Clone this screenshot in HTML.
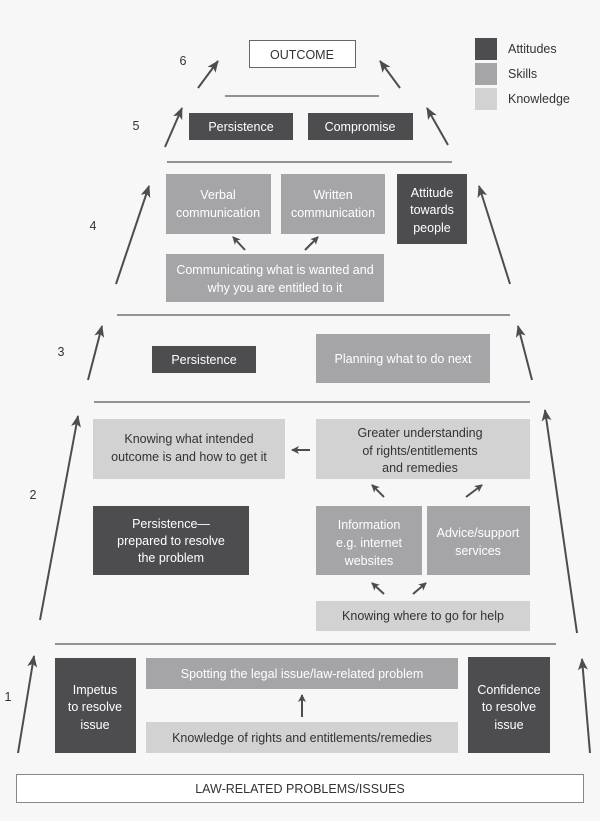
<!DOCTYPE html>
<html><head><meta charset="utf-8"><style>
html,body{margin:0;padding:0;background:#f7f7f7}
svg{display:block}
text{font-family:"Liberation Sans",sans-serif;font-size:12.5px;text-anchor:middle}
.w{fill:#fff}.k{fill:#333}
</style></head><body>
<svg width="600" height="821" viewBox="0 0 600 821" xmlns="http://www.w3.org/2000/svg">
<defs><marker id="a" markerWidth="8" markerHeight="8" refX="7" refY="4" orient="auto" markerUnits="userSpaceOnUse"><path d="M0,0 L8,4 L0,8 L2,4z" fill="#4d4d4f"/></marker>
<marker id="b" markerWidth="12" markerHeight="10" refX="11" refY="5" orient="auto" markerUnits="userSpaceOnUse"><path d="M0,0 L12,5 L0,10 L3,5z" fill="#4d4d4f"/></marker></defs>
<rect width="600" height="821" fill="#f7f7f7"/>
<!-- legend -->
<rect x="475" y="38" width="22" height="22" fill="#4d4d4f"/>
<rect x="475" y="63" width="22" height="22" fill="#a5a5a7"/>
<rect x="475" y="88" width="22" height="22" fill="#d2d2d3"/>
<g class="k" style="text-anchor:start"><text x="508" y="53" style="text-anchor:start">Attitudes</text><text x="508" y="78" style="text-anchor:start">Skills</text><text x="508" y="103" style="text-anchor:start">Knowledge</text></g>
<!-- lines -->
<g stroke="#555" stroke-width="1.2"><line x1="225" y1="96" x2="379" y2="96"/><line x1="167" y1="162" x2="452" y2="162"/><line x1="117" y1="315" x2="510" y2="315"/><line x1="94" y1="402" x2="530" y2="402"/><line x1="55" y1="644" x2="556" y2="644"/></g>
<!-- big arrows -->
<g stroke="#4d4d4f" stroke-width="2" marker-end="url(#b)">
<line x1="198" y1="88" x2="218" y2="61"/><line x1="400" y1="88" x2="380" y2="61"/>
<line x1="165" y1="147" x2="182" y2="108"/><line x1="448" y1="145" x2="427" y2="108"/>
<line x1="116" y1="284" x2="149" y2="186"/><line x1="510" y1="284" x2="479" y2="186"/>
<line x1="88" y1="380" x2="102" y2="326"/><line x1="532" y1="380" x2="518" y2="326"/>
<line x1="40" y1="620" x2="78" y2="416"/><line x1="577" y1="633" x2="545" y2="410"/>
<line x1="18" y1="753" x2="34" y2="656"/><line x1="590" y1="753" x2="582" y2="659"/>
</g>
<g stroke="#4d4d4f" stroke-width="2" marker-end="url(#a)">
<line x1="245" y1="250" x2="233" y2="237"/><line x1="305" y1="250" x2="318" y2="237"/>
<line x1="310" y1="450" x2="292" y2="450"/>
<line x1="384" y1="497" x2="372" y2="485"/><line x1="466" y1="497" x2="482" y2="485"/>
<line x1="384" y1="594" x2="372" y2="583"/><line x1="413" y1="594" x2="426" y2="583"/>
<line x1="302" y1="717" x2="302" y2="695"/>
</g>
<!-- numbers -->
<g class="k"><text x="183" y="65">6</text><text x="136" y="130">5</text><text x="93" y="230">4</text><text x="61" y="356">3</text><text x="33" y="499">2</text><text x="8" y="701">1</text></g>
<!-- boxes -->
<rect x="249.5" y="40.5" width="106" height="27" fill="#fff" stroke="#666"/>
<text x="302" y="59" class="k">OUTCOME</text>
<rect x="189" y="113" width="104" height="27" fill="#4d4d4f"/><text x="241" y="131" class="w">Persistence</text>
<rect x="308" y="113" width="105" height="27" fill="#4d4d4f"/><text x="360" y="131" class="w">Compromise</text>
<rect x="166" y="174" width="105" height="60" fill="#a5a5a7"/><text x="218" y="199" class="w">Verbal</text><text x="218" y="217" class="w">communication</text>
<rect x="281" y="174" width="104" height="60" fill="#a5a5a7"/><text x="333" y="199" class="w">Written</text><text x="333" y="217" class="w">communication</text>
<rect x="397" y="174" width="70" height="70" fill="#4d4d4f"/><text x="432" y="197" class="w">Attitude</text><text x="432" y="214" class="w">towards</text><text x="432" y="232" class="w">people</text>
<rect x="166" y="254" width="218" height="48" fill="#a5a5a7"/><text x="275" y="274" class="w">Communicating what is wanted and</text><text x="275" y="292" class="w">why you are entitled to it</text>
<rect x="152" y="346" width="104" height="27" fill="#4d4d4f"/><text x="204" y="364" class="w">Persistence</text>
<rect x="316" y="334" width="174" height="49" fill="#a5a5a7"/><text x="403" y="363" class="w">Planning what to do next</text>
<rect x="93" y="419" width="192" height="60" fill="#d2d2d3"/><text x="189" y="443" class="k">Knowing what intended</text><text x="189" y="461" class="k">outcome is and how to get it</text>
<rect x="316" y="419" width="214" height="60" fill="#d2d2d3"/><text x="420" y="437" class="k">Greater understanding</text><text x="420" y="455" class="k">of rights/entitlements</text><text x="420" y="472" class="k">and remedies</text>
<rect x="93" y="506" width="156" height="69" fill="#4d4d4f"/><text x="171" y="528" class="w">Persistence—</text><text x="171" y="545" class="w">prepared to resolve</text><text x="171" y="562" class="w">the problem</text>
<rect x="316" y="506" width="106" height="69" fill="#a5a5a7"/><text x="369" y="529" class="w">Information</text><text x="369" y="547" class="w">e.g. internet</text><text x="369" y="565" class="w">websites</text>
<rect x="427" y="506" width="103" height="69" fill="#a5a5a7"/><text x="478" y="537" class="w">Advice/support</text><text x="478" y="555" class="w">services</text>
<rect x="316" y="601" width="214" height="30" fill="#d2d2d3"/><text x="423" y="620" class="k">Knowing where to go for help</text>
<rect x="55" y="658" width="81" height="95" fill="#4d4d4f"/><text x="95" y="694" class="w">Impetus</text><text x="95" y="711" class="w">to resolve</text><text x="95" y="729" class="w">issue</text>
<rect x="146" y="658" width="312" height="31" fill="#a5a5a7"/><text x="302" y="678" class="w">Spotting the legal issue/law-related problem</text>
<rect x="146" y="722" width="312" height="31" fill="#d2d2d3"/><text x="302" y="742" class="k">Knowledge of rights and entitlements/remedies</text>
<rect x="468" y="657" width="82" height="96" fill="#4d4d4f"/><text x="509" y="694" class="w">Confidence</text><text x="509" y="711" class="w">to resolve</text><text x="509" y="729" class="w">issue</text>
<rect x="16.5" y="774.5" width="567" height="28" fill="#fff" stroke="#888"/><text x="300" y="793" class="k">LAW-RELATED PROBLEMS/ISSUES</text>
</svg>
</body></html>
